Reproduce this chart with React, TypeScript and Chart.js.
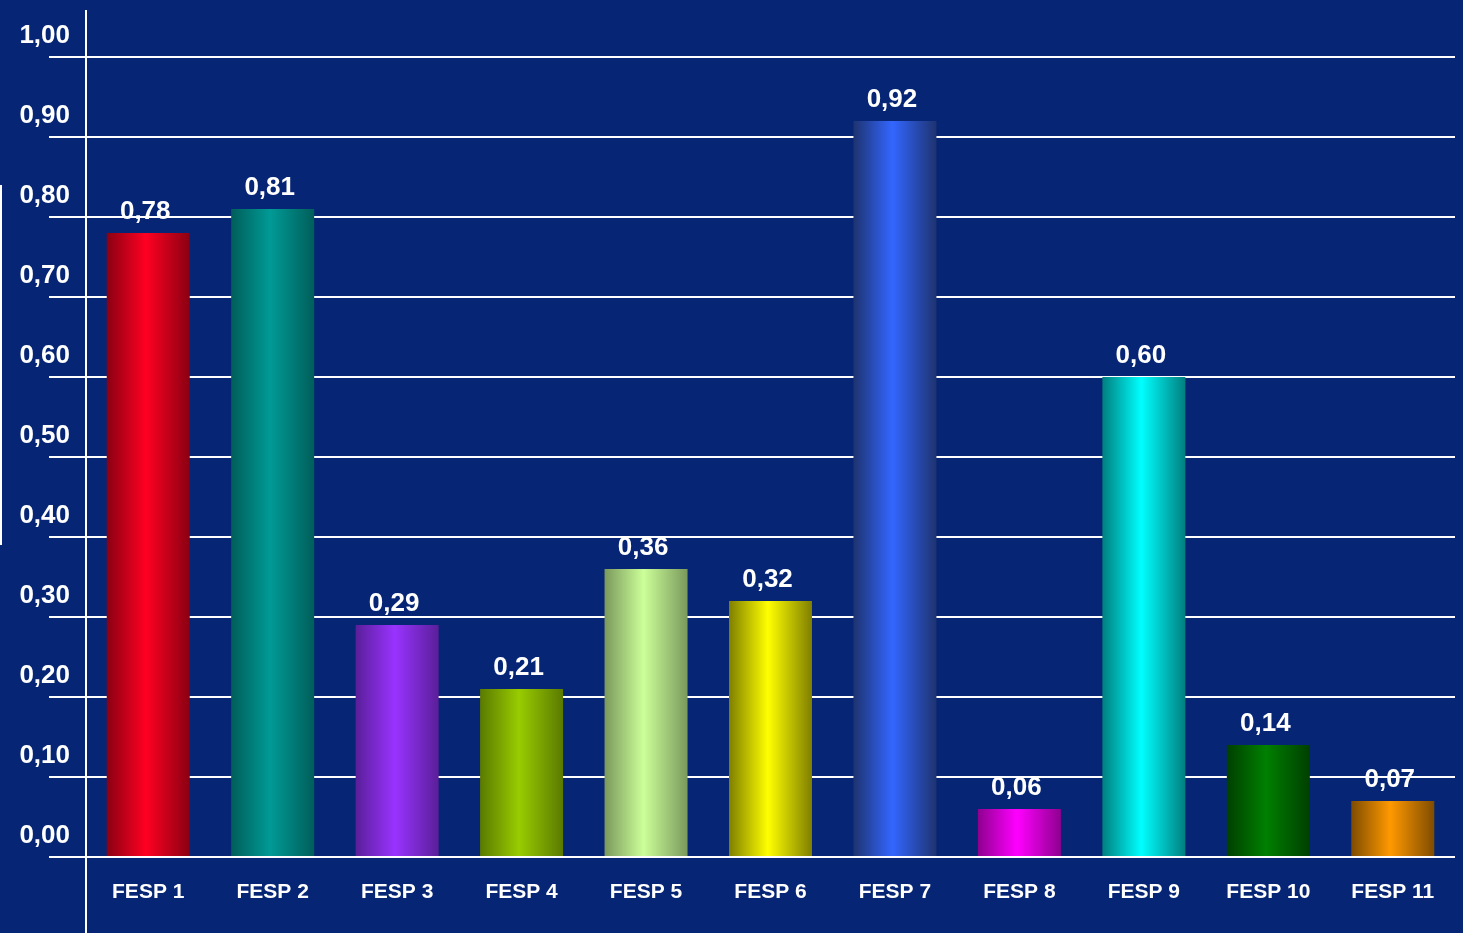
import React, { useEffect, useRef } from "react";
import { Chart, registerables } from "chart.js";

Chart.register(...registerables);

const categories = ["FESP 1", "FESP 2", "FESP 3", "FESP 4", "FESP 5", "FESP 6", "FESP 7", "FESP 8", "FESP 9", "FESP 10", "FESP 11"];
const values = [0.78, 0.81, 0.29, 0.21, 0.36, 0.32, 0.92, 0.06, 0.6, 0.14, 0.07];
const brightColors = ["#FF0022", "#009A96", "#9933FF", "#99CC00", "#CCFF99", "#FFFF00", "#3366FF", "#FF00FF", "#00FFFF", "#008000", "#FF9900"];
const darkColors = ["#8A0012", "#005E5A", "#5A1F99", "#5A7A00", "#7A995C", "#7F7F00", "#1E3370", "#8F008F", "#007F7F", "#003F00", "#7F4C00"];
const yMin = 0;
const yMax = 1;
const yStep = 0.1;

const FONT = '"Liberation Sans", Arial, sans-serif';
const BG = "#062575";

const fmt = (v: number) => v.toFixed(2).replace(".", ",");

const decorPlugin = {
  id: "decor",
  beforeDatasetsDraw(chart: any) {
    const { ctx } = chart;
    const meta = chart.getDatasetMeta(0);
    meta.data.forEach((el: any, i: number) => {
      const w = el.width;
      const g = ctx.createLinearGradient(el.x - w / 2, 0, el.x + w / 2, 0);
      g.addColorStop(0, darkColors[i]);
      g.addColorStop(0.47, brightColors[i]);
      g.addColorStop(1, darkColors[i]);
      el.options.backgroundColor = g;
    });
    const left = chart.chartArea.left;
    ctx.save();
    ctx.strokeStyle = "#ffffff";
    ctx.lineWidth = 2;
    ctx.beginPath();
    ctx.moveTo(left, 10);
    ctx.lineTo(left, chart.height);
    ctx.stroke();
    ctx.beginPath();
    ctx.moveTo(1, 185);
    ctx.lineTo(1, 545);
    ctx.stroke();
    ctx.restore();
  },
  afterDatasetsDraw(chart: any) {
    const { ctx } = chart;
    const meta = chart.getDatasetMeta(0);
    ctx.save();
    ctx.fillStyle = "#ffffff";
    ctx.font = `bold 26px ${FONT}`;
    ctx.textAlign = "center";
    ctx.textBaseline = "middle";
    meta.data.forEach((el: any, i: number) => {
      ctx.fillText(fmt(values[i]), el.x - 3, el.y - 21);
    });
    ctx.restore();
  },
};

export default function App() {
  const ref = useRef<HTMLCanvasElement | null>(null);
  useEffect(() => {
    if (!ref.current) return;
    const chart = new Chart(ref.current, {
      type: "bar",
      data: {
        labels: categories,
        datasets: [
          {
            data: values,
            backgroundColor: brightColors,
            borderWidth: 0,
            categoryPercentage: 1,
            barPercentage: 0.667,
          },
        ],
      },
      options: {
        responsive: false,
        animation: false,
        layout: { padding: { top: 57, right: 8, left: 0, bottom: 0 } },
        plugins: {
          legend: { display: false },
          tooltip: { enabled: false },
        },
        scales: {
          x: {
            type: "category",
            grid: { display: false, drawTicks: false },
            border: { display: false },
            afterFit: (s: any) => {
              s.height = 76;
            },
            ticks: {
              color: "#ffffff",
              padding: 23,
              maxRotation: 0,
              autoSkip: false,
              font: { family: FONT, size: 21, weight: "bold" },
            },
          },
          y: {
            min: yMin,
            max: yMax,
            afterFit: (s: any) => {
              s.width = 86;
            },
            border: { display: false },
            grid: {
              color: "#ffffff",
              lineWidth: 2,
              drawTicks: true,
              tickLength: 37,
              tickColor: "#ffffff",
              tickWidth: 2,
            },
            ticks: {
              stepSize: yStep,
              color: "#ffffff",
              padding: -21,
              labelOffset: -21,
              font: { family: FONT, size: 26, weight: "bold" },
              callback: (v: any) => fmt(Number(v)),
            },
          },
        },
      },
      plugins: [decorPlugin],
    });
    return () => chart.destroy();
  }, []);
  return (
    <div style={{ position: "fixed", left: 0, top: 0, width: 1463, height: 933, background: BG }}>
      <canvas ref={ref} width={1463} height={933} style={{ display: "block" }} />
    </div>
  );
}
